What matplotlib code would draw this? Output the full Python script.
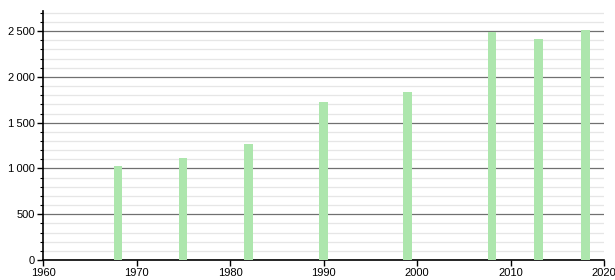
import numpy as np
import matplotlib.pyplot as plt
from matplotlib.ticker import MultipleLocator, FuncFormatter

plt.rcParams['font.family'] = ['Liberation Sans', 'DejaVu Sans']

# data
years = [1968, 1975, 1982, 1990, 1999, 2008, 2013, 2018]
population = [1030, 1113, 1266, 1725, 1834, 2492, 2413, 2511]

fig = plt.figure(figsize=(6.15, 2.8), dpi=100)
ax = fig.add_axes([43 / 615, 20 / 280, 561 / 615, 249 / 280])

ax.bar(years, population, width=0.9, color='#ade6ad', zorder=3)

ax.set_xlim(1960, 2020)
ax.set_ylim(0, 2720)
ax.xaxis.set_major_locator(MultipleLocator(10))
ax.yaxis.set_major_locator(MultipleLocator(500))
ax.yaxis.set_minor_locator(MultipleLocator(100))
ax.yaxis.set_major_formatter(FuncFormatter(lambda v, p: f"{int(v):,}".replace(",", "\u2009")))

ax.grid(axis='y', which='major', color='#707070', linewidth=0.9, zorder=1)
ax.grid(axis='y', which='minor', color='#e6e6e6', linewidth=0.9, zorder=1)

for s in ['top', 'right']:
    ax.spines[s].set_visible(False)
for s in ['left', 'bottom']:
    ax.spines[s].set_color('black')
    ax.spines[s].set_linewidth(1.2)

ax.tick_params(axis='both', which='major', labelsize=8, length=4, width=1, pad=2)
ax.tick_params(axis='y', which='minor', length=2, width=0.8)

fig.savefig('out.png', dpi=100)
